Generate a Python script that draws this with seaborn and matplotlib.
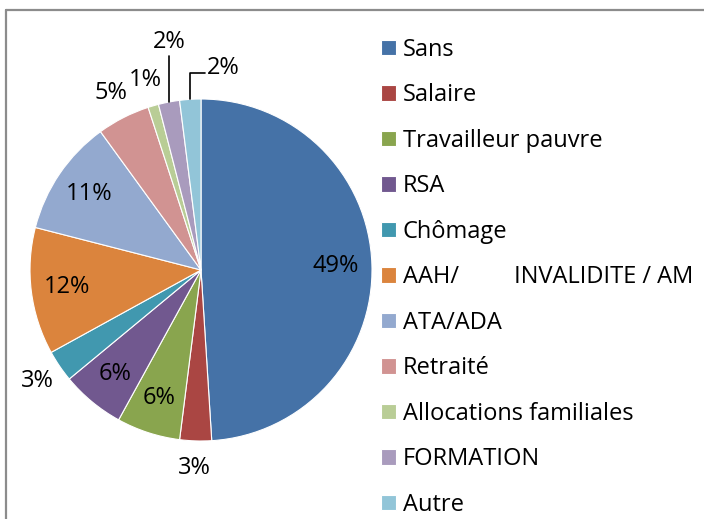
import matplotlib.pyplot as plt
from matplotlib.lines import Line2D
import numpy as np
import seaborn as sns

# Data.
categories = ['Sans', 'Salaire', 'Travailleur pauvre', 'RSA', 'Chômage',
              'AAH/         INVALIDITE / AM', 'ATA/ADA', 'Retraité',
              'Allocations familiales', 'FORMATION', 'Autre']
shares = [49, 3, 6, 6, 3, 12, 11, 5, 1, 2, 2]
colors = ['#4572A7', '#AA4643', '#89A54E', '#71588F', '#4198AF', '#DB843D',
          '#93A9CF', '#D19392', '#B9CD96', '#A99BBD', '#92C5D8']

sns.set_theme(style='white')
plt.rcParams['font.family'] = ['Open Sans', 'DejaVu Sans']
plt.rcParams['text.color'] = 'black'
fs = 17

# Figure in pixels, pie center and radius in pixels.
W, H = 704, 519
cx, cy, r = 201, 270, 171

fig = plt.figure(figsize=(W / 100, H / 100), dpi=100)
ax = fig.add_axes([0, 0, 1, 1])
wedges, _ = ax.pie(shares, colors=colors, startangle=90, counterclock=False,
                   wedgeprops=dict(edgecolor='white', linewidth=0.8))
ax.set_xlim(-cx / r, (W - cx) / r)
ax.set_ylim(-(H - cy) / r, cy / r)
ax.axis('off')

# Percentage labels.
for name, w, s in zip(categories, wedges, shares):
    mid = np.deg2rad((w.theta1 + w.theta2) / 2)
    ex, ey = np.cos(mid), np.sin(mid)
    txt = '{}%'.format(s)
    if name == 'FORMATION':
        ax.plot([ex, ex], [ey, 1.25], color='black', lw=1.2)
        ax.text(ex, 1.335, txt, ha='center', va='center', fontsize=fs)
    elif name == 'Autre':
        ax.plot([ex, ex, 0.025], [ey, 1.15, 1.15], color='black', lw=1.2)
        ax.text(0.035, 1.18, txt, ha='left', va='center', fontsize=fs)
    elif s >= 6:
        ax.text(0.79 * ex, 0.79 * ey, txt, ha='center', va='center', fontsize=fs)
    else:
        ax.text(1.16 * ex, 1.16 * ey, txt, ha='center', va='center', fontsize=fs)

# Legend on the right.
fig.legend(wedges, categories, loc='upper left',
           bbox_to_anchor=(381 / W, 1 - 38 / H), frameon=False,
           fontsize=fs, handlelength=0.63, handleheight=0.63,
           handletextpad=0.3, labelspacing=0.91, borderpad=0, borderaxespad=0)

# Chart-area border (only top and left visible).
fig.add_artist(Line2D([6 / W, 6 / W], [0, 1 - 10 / H], color='#8c8c8c', lw=1.6))
fig.add_artist(Line2D([6 / W, 1], [1 - 10 / H, 1 - 10 / H], color='#8c8c8c', lw=1.6))

fig.savefig('out.png', dpi=100)
